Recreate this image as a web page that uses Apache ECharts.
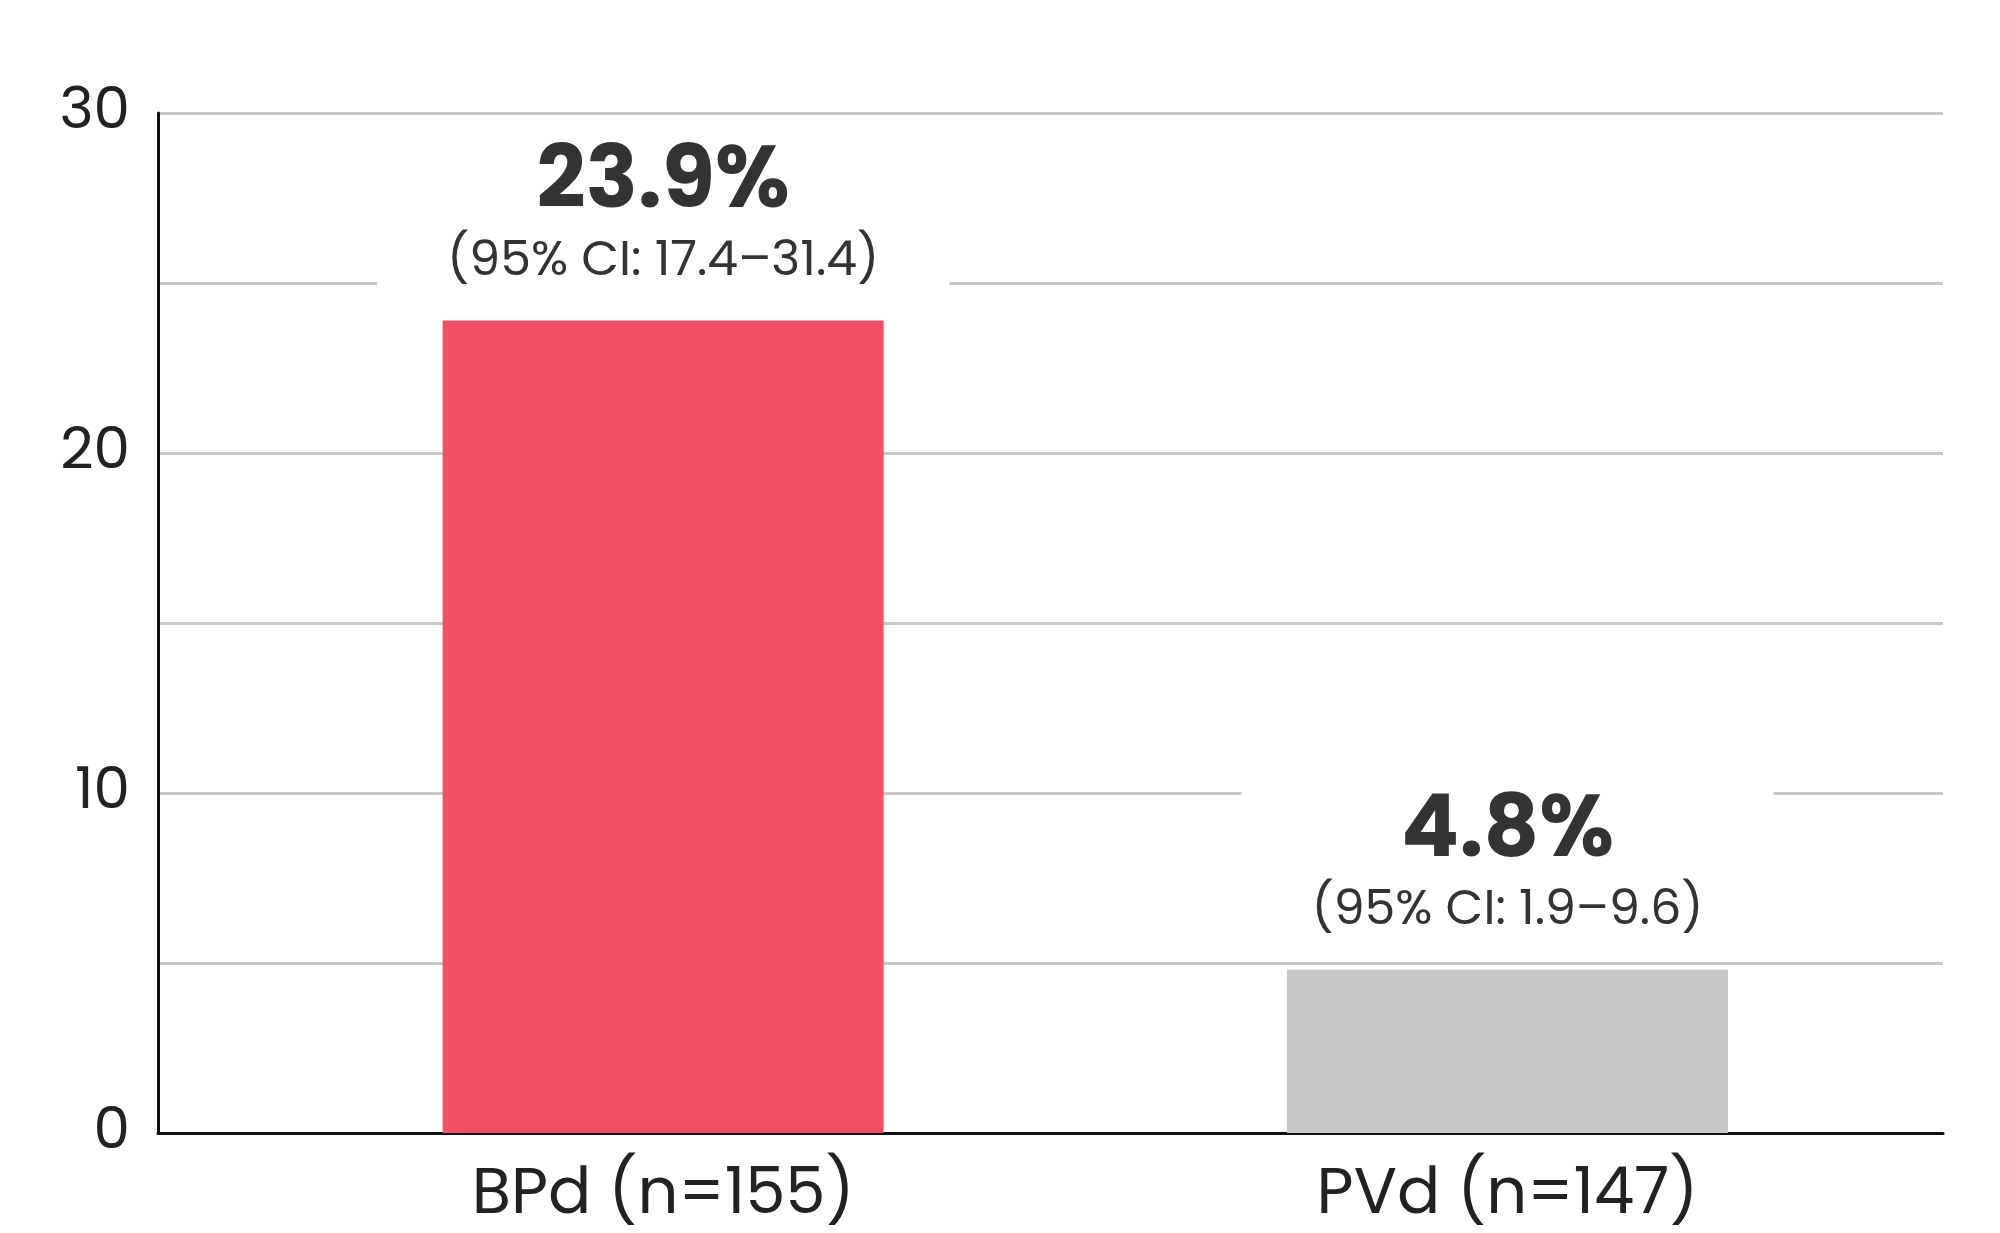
<!DOCTYPE html>
<html lang="en">
<head>
    <meta charset="UTF-8">
    <title>Response rate</title>
    <script src="https://cdn.jsdelivr.net/npm/echarts@6/dist/echarts.min.js"></script>
    <style>body{margin:0;background:#fff}</style>
</head>
<body>
    <div id="main" style="width:2000px;height:1233px;"></div>
    <script type="text/javascript">
        // data
        var categories = ['BPd (n=155)', 'PVd (n=147)'];
        var positions = [28.3, 75.6]; // bar centres along the x axis (0-100)
        var rates = [23.9, 4.8];
        var ciLabels = ['(95% CI: 17.4\u201331.4)', '(95% CI: 1.9\u20139.6)'];
        var barColors = ['#F05065', '#C8C8C8'];
        var yTicks = [0, 10, 20, 30];

        var myChart = echarts.init(document.getElementById('main'));
        var font = 'Poppins, "Noto Sans", sans-serif';

        var option = {
            animation: false,
            grid: { left: 158, right: 57, top: 113, bottom: 100 },
            xAxis: {
                type: 'value',
                min: 0, max: 100,
                axisLine: { lineStyle: { color: '#111', width: 3 } },
                axisTick: { show: false },
                splitLine: { show: false },
                axisLabel: {
                    customValues: positions,
                    fontSize: 64, color: '#222', fontFamily: font, margin: 32,
                    formatter: function (v) {
                        var i = positions.indexOf(v);
                        return i >= 0 ? categories[i] : '';
                    }
                }
            },
            yAxis: {
                type: 'value',
                min: 0, max: 30, interval: 5,
                axisLine: { show: true, lineStyle: { color: '#111', width: 3 } },
                axisTick: { show: false },
                splitLine: { lineStyle: { color: '#c8c8c8', width: 3 } },
                axisLabel: {
                    fontSize: 58, color: '#222', fontFamily: font, margin: 28,
                    formatter: function (v) { return yTicks.indexOf(v) >= 0 ? v : ''; }
                }
            },
            series: [{
                type: 'bar',
                barWidth: 441,
                data: rates.map(function (v, i) {
                    return { value: [positions[i], v], itemStyle: { color: barColors[i] } };
                }),
                label: {
                    show: true,
                    position: 'top',
                    distance: 22,
                    backgroundColor: '#fff',
                    padding: [0, 70, 6, 70],
                    fontFamily: font,
                    formatter: function (p) {
                        return '{v|' + p.value[1] + '%}\n{c|' + ciLabels[p.dataIndex] + '}';
                    },
                    rich: {
                        v: { fontSize: 86, fontWeight: 'bold', color: '#333', lineHeight: 94, fontFamily: font },
                        c: { fontSize: 49, color: '#333', lineHeight: 60, fontFamily: font }
                    }
                }
            }]
        };

        myChart.setOption(option);
    </script>
</body>
</html>
